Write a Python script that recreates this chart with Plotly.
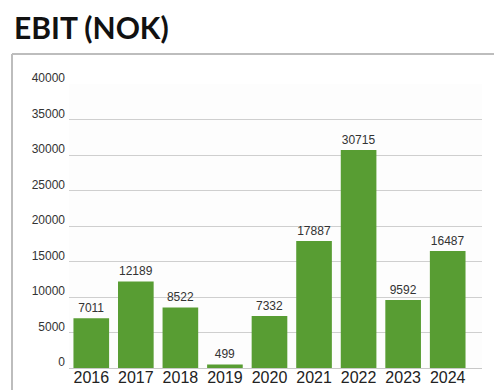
import plotly.graph_objects as go

# EBIT per year, NOK
years = ["2016", "2017", "2018", "2019", "2020", "2021", "2022", "2023", "2024"]
ebit = [7011, 12189, 8522, 499, 7332, 17887, 30715, 9592, 16487]
y_ticks = [0, 5000, 10000, 15000, 20000, 25000, 30000, 35000, 40000]

W, H = 494, 390
L, R, T, B = 69, 12, 84, 22
pw, ph = W - L - R, H - T - B
SANS = "Liberation Sans, Arial, sans-serif"


def px_x(x):
    return (x - L) / pw


def px_y(y):
    return (H - B - y) / ph


fig = go.Figure(
    go.Bar(
        x=years,
        y=ebit,
        marker=dict(color="#589d33", line=dict(width=0)),
        text=[str(v) for v in ebit],
        textposition="outside",
        textfont=dict(family=SANS, size=12, color="#333333"),
        cliponaxis=False,
    )
)

# frame around the chart panel
frame = dict(color="#bdbdbd", width=2)
fig.add_shape(type="line", xref="paper", yref="paper",
              x0=px_x(12), x1=px_x(W), y0=px_y(54), y1=px_y(54), line=frame)
fig.add_shape(type="line", xref="paper", yref="paper",
              x0=px_x(12), x1=px_x(12), y0=px_y(54), y1=px_y(H), line=frame)

fig.update_layout(
    width=W,
    height=H,
    margin=dict(l=L, r=R, t=T, b=B, autoexpand=False),
    paper_bgcolor="white",
    plot_bgcolor="#fdfdfd",
    bargap=0.2,
    showlegend=False,
    title=dict(
        text="<b>EBIT (NOK)</b>",
        font=dict(family="Lato", size=30, color="#111111"),
        x=14 / W, xanchor="left", xref="container",
        y=1 - 28 / H, yanchor="middle", yref="container",
    ),
    xaxis=dict(
        type="category",
        range=[-0.5, 8.77],
        showgrid=False,
        showline=False,
        ticks="",
        ticklabelstandoff=-2,
        tickfont=dict(family=SANS, size=16, color="#222222"),
        automargin=False,
    ),
    yaxis=dict(
        range=[0, 40000],
        tickvals=y_ticks,
        ticktext=[str(v) for v in y_ticks],
        showgrid=True,
        gridcolor="#cfcfcf",
        gridwidth=1,
        zeroline=True,
        zerolinecolor="#c8c8c8",
        zerolinewidth=1,
        showline=False,
        ticks="",
        ticklabelshift=-6,
        ticklabelstandoff=3,
        tickfont=dict(family=SANS, size=12, color="#333333"),
        automargin=False,
    ),
)

fig.write_html("out.html")
